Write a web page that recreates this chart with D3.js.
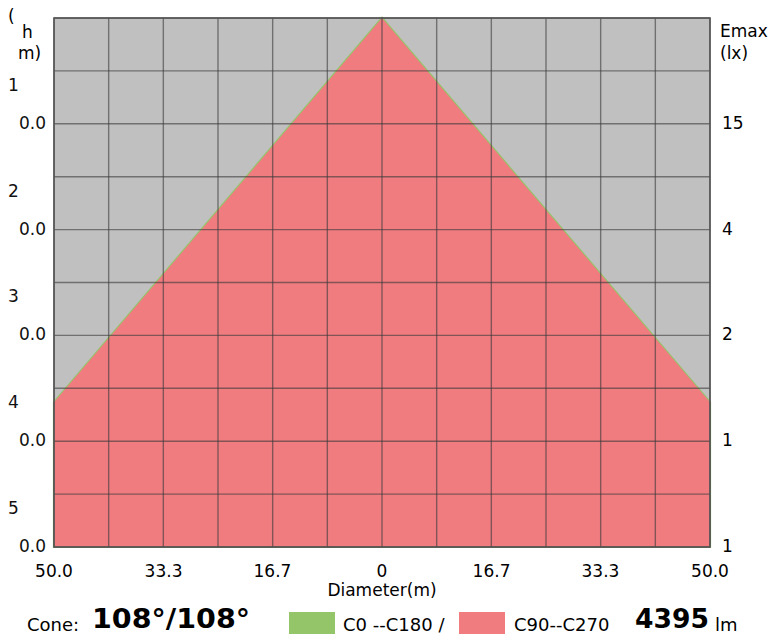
<!DOCTYPE html>
<html>
<head>
<meta charset="utf-8">
<script src="https://cdn.jsdelivr.net/npm/d3@7"></script>
<style>
	body { margin: 0; background: #fff; }
	svg { display: block; font-family: "DejaVu Sans", Verdana, sans-serif; }
</style>
</head>
<body>
<svg></svg>
<script>
// beam cone data
let coneAngle = 108;            // degrees, same for both planes
let lumens = 4395;
let heights = [10, 20, 30, 40, 50];            // left axis (m)
let emaxLabels = ["15", "4", "2", "1", "1"];    // right axis (lx)
let diameterTicks = [-50, -33.3, -16.7, 0, 16.7, 33.3, 50];
let seriesNames = ["C0 --C180 /", "C90--C270"];
let seriesColours = ["#94c568", "#f07c80"];

// cone outline: half width reaches 50 m at this height, then straight down
let halfAngle = coneAngle / 2 * Math.PI / 180;
let edgeHeight = 50 / Math.tan(halfAngle);
let conePoints = [[0, 0], [50, edgeHeight], [50, 50], [-50, 50], [-50, edgeHeight]];

let margin = { "top": 18, "right": 64, "bottom": 92, "left": 54 };
let totalWidth = 774, totalHeight = 639;
let width = totalWidth - margin.left - margin.right;
let height = totalHeight - margin.top - margin.bottom;

let scaleX = d3.scaleLinear().domain([-50, 50]).range([0, width]);
let scaleY = d3.scaleLinear().domain([0, 50]).range([0, height]);

let svg = d3.select("svg")
	.attr("width", totalWidth)
	.attr("height", totalHeight);

let plot = svg.append("g")
	.attr("transform", "translate(" + margin.left + "," + margin.top + ")");

// background
plot.append("rect")
	.attr("width", width)
	.attr("height", height)
	.attr("fill", "#c0c0c0");

let line = d3.line().x(d => scaleX(d[0])).y(d => scaleY(d[1]));

// C0-C180 under, C90-C270 on top
plot.append("path")
	.attr("d", line(conePoints) + "Z")
	.attr("fill", seriesColours[0])
	.attr("stroke", seriesColours[0])
	.attr("stroke-width", 2.2);

plot.append("path")
	.attr("d", line(conePoints) + "Z")
	.attr("fill", seriesColours[1]);

// grid: 12 columns, 10 rows
let gridX = d3.range(-50, 50.001, 100 / 12);
let gridY = d3.range(0, 50.001, 5);

plot.append("g")
	.selectAll("line")
	.data(gridX)
	.join("line")
	.attr("x1", d => scaleX(d)).attr("x2", d => scaleX(d))
	.attr("y1", 0).attr("y2", height)
	.attr("stroke", "#3a3a3a").attr("stroke-opacity", 0.6).attr("stroke-width", 1.4);

plot.append("g")
	.selectAll("line")
	.data(gridY)
	.join("line")
	.attr("x1", 0).attr("x2", width)
	.attr("y1", d => scaleY(d)).attr("y2", d => scaleY(d))
	.attr("stroke", "#3a3a3a").attr("stroke-opacity", 0.6).attr("stroke-width", 1.4);

// frame
plot.append("rect")
	.attr("width", width)
	.attr("height", height)
	.attr("fill", "none")
	.attr("stroke", "#555")
	.attr("stroke-width", 1.6);

let fontSize = 17;

// left axis title, wrapped as in the original
let leftTitle = [["(", 8, 22], ["h", 22, 38], ["m)", 18, 59]];
svg.append("g")
	.selectAll("text")
	.data(leftTitle)
	.join("text")
	.attr("x", d => d[1]).attr("y", d => d[2])
	.attr("font-size", fontSize)
	.text(d => d[0]);

// left tick labels, first digit wrapped onto the line above
let leftTicks = svg.append("g").attr("font-size", fontSize).attr("fill", "#111");
leftTicks.selectAll("text.lead")
	.data(heights)
	.join("text")
	.attr("class", "lead")
	.attr("x", 8)
	.attr("y", d => margin.top + scaleY(d) - 33)
	.text(d => d3.format(".1f")(d)[0]);
leftTicks.selectAll("text.rest")
	.data(heights)
	.join("text")
	.attr("class", "rest")
	.attr("x", 46)
	.attr("text-anchor", "end")
	.attr("y", d => margin.top + scaleY(d) + 5)
	.text(d => d3.format(".1f")(d).slice(1));

// right axis
let rightX = margin.left + width + 10;
svg.append("text").attr("x", rightX).attr("y", 37).attr("font-size", fontSize).text("Emax");
svg.append("text").attr("x", rightX).attr("y", 59).attr("font-size", fontSize).text("(lx)");
svg.append("g")
	.attr("font-size", fontSize)
	.selectAll("text")
	.data(heights)
	.join("text")
	.attr("x", rightX + 2)
	.attr("y", (d, i) => margin.top + scaleY(d) + 5)
	.text((d, i) => emaxLabels[i]);

// bottom axis
svg.append("g")
	.attr("font-size", fontSize)
	.attr("text-anchor", "middle")
	.selectAll("text")
	.data(diameterTicks)
	.join("text")
	.attr("x", d => margin.left + scaleX(d))
	.attr("y", 577)
	.text(d => d === 0 ? "0" : d3.format(".1f")(Math.abs(d)));

svg.append("text")
	.attr("x", margin.left + scaleX(0))
	.attr("y", 596)
	.attr("text-anchor", "middle")
	.attr("font-size", fontSize)
	.text("Diameter(m)");

// legend row
let legendY = 631;
svg.append("text").attr("x", 27).attr("y", legendY).attr("font-size", 18).text("Cone:");
svg.append("text")
	.attr("x", 92).attr("y", 628)
	.attr("font-size", 26).attr("font-weight", "bold")
	.attr("textLength", 158).attr("lengthAdjust", "spacingAndGlyphs")
	.text(coneAngle + "°/" + coneAngle + "°");

let swatchX = [289, 459];
let labelX = [343, 514];
svg.append("g")
	.selectAll("rect")
	.data(seriesNames)
	.join("rect")
	.attr("x", (d, i) => swatchX[i])
	.attr("y", 612)
	.attr("width", 46)
	.attr("height", 22)
	.attr("fill", (d, i) => seriesColours[i]);
svg.append("g")
	.attr("font-size", 18)
	.selectAll("text")
	.data(seriesNames)
	.join("text")
	.attr("x", (d, i) => labelX[i])
	.attr("y", legendY)
	.text(d => d);

svg.append("text")
	.attr("x", 635).attr("y", 628)
	.attr("font-size", 26).attr("font-weight", "bold")
	.attr("textLength", 74).attr("lengthAdjust", "spacingAndGlyphs")
	.text(lumens);
svg.append("text").attr("x", 715).attr("y", legendY).attr("font-size", 18).text("lm");
</script>
</body>
</html>
